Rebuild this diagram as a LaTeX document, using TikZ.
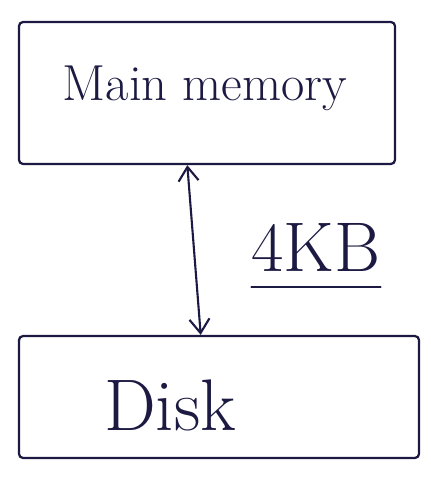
\documentclass[tikz,border=0pt]{standalone}
\usepackage{tikz}
\usetikzlibrary{arrows.meta,positioning}
\definecolor{ink}{RGB}{28,26,66}
\tikzset{
  box/.style={draw=ink, line width=1.6pt, rounded corners=3pt},
  hand/.style={text=ink, inner sep=2pt},
  link/.style={draw=ink, line width=1.5pt}
}
\begin{document}
\begin{tikzpicture}[x=0.025cm, y=-0.025cm, >={Straight Barb[length=3.5mm,width=5mm]}, line cap=round, line join=round]
% ---- page ----
\useasboundingbox (0,0) rectangle (430,485);
% ---- main memory ----
\node[box, minimum width=9.4cm, minimum height=3.55cm] (mainmem) at (207,93) {};
\node[hand, font=\fontsize{36}{40}\selectfont] (mainlbl) at (205,88) {Main memory};
% ---- disk ----
\node[box, minimum width=10cm, minimum height=3.05cm] (disk) at (219,397) {};
\node[hand, font=\fontsize{52}{56}\selectfont] (disklbl) at (170,405) {Disk};
% ---- transfer between them ----
\draw[link, <->] ([xshift=-14pt]mainmem.south) -- ([xshift=-13pt]disk.north);
\node[hand, font=\fontsize{50}{54}\selectfont] (kb) at (316,247) {4KB};
\draw[link, line width=1.2pt] ([xshift=2pt,yshift=-9pt]kb.south west) -- ([xshift=-2pt,yshift=-9pt]kb.south east);
\end{tikzpicture}
\end{document}
